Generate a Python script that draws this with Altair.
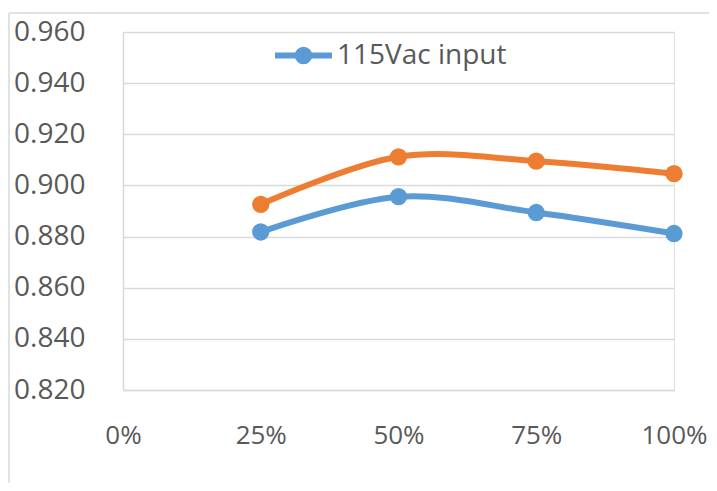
import altair as alt
import pandas as pd

# ---- data ----
loads = [0.25, 0.50, 0.75, 1.00]
eff_115 = [0.8818, 0.8956, 0.8894, 0.8812]
eff_230 = [0.8926, 0.9112, 0.9095, 0.9046]
series_names = ["115Vac input", "230Vac input"]
series_colors = ["#5b9bd5", "#ed7d31"]
y_ticks = [0.82, 0.84, 0.86, 0.88, 0.90, 0.92, 0.94, 0.96]
x_ticks = [0.0, 0.25, 0.50, 0.75, 1.00]

df = pd.DataFrame({
    "load": loads + loads,
    "eff": eff_115 + eff_230,
    "series": [series_names[0]] * len(loads) + [series_names[1]] * len(loads),
})

FONT = "Open Sans"
GRID = "#d9d9d9"
TXT = "#595959"
FS = 28

# legend symbol: a line with a circle in the middle (unit coordinates)
sym = ("M-1,0H-0.2A0.2,0.2 0 1,1 0.2,0A0.2,0.2 0 1,1 -0.2,0"
       "M0.2,0H1")

color = alt.Color(
    "series:N",
    scale=alt.Scale(domain=series_names, range=series_colors),
    legend=alt.Legend(
        values=[series_names[0]], orient="none", legendX=149, legendY=-8,
        title=None, symbolType=sym, symbolSize=3249, symbolStrokeWidth=6,
        labelFont=FONT, labelFontSize=FS, labelColor=TXT, labelOffset=2,
        labelLimit=400,
    ),
)

x = alt.X("load:Q",
          scale=alt.Scale(domain=[0, 1], nice=False),
          axis=alt.Axis(values=x_ticks, format=".0%", title=None, grid=False,
                        ticks=False, domainColor=GRID, domainWidth=1.5,
                        labelFlush=False, labelBound=False,
                        labelPadding=32, labelFont=FONT, labelFontSize=26,
                        labelColor=TXT))
y = alt.Y("eff:Q",
          scale=alt.Scale(domain=[0.82, 0.96], nice=False, zero=False),
          axis=alt.Axis(values=y_ticks, format=".3f", title=None, grid=True,
                        gridColor=GRID, gridWidth=1.5, ticks=False,
                        domainColor=GRID, domainWidth=1.5, labelPadding=38,
                        labelFlush=False, labelBound=False,
                        labelFont=FONT, labelFontSize=FS, labelColor=TXT))

base = alt.Chart(df)
lines = base.mark_line(interpolate="cardinal", strokeWidth=6).encode(
    x=x, y=y, color=color)
points = base.mark_circle(size=300, opacity=1).encode(
    x=x, y=y, color=color)

border_df = pd.DataFrame({"k": [0]})
border_v = alt.Chart(border_df).mark_rule(color=GRID, strokeWidth=1.5).encode(
    x=alt.value(-114), y=alt.value(-19), y2=alt.value(470))
border_h = alt.Chart(border_df).mark_rule(color=GRID, strokeWidth=1.5).encode(
    x=alt.value(-114), x2=alt.value(620), y=alt.value(-19))

chart = alt.layer(border_v, border_h, lines, points).properties(
    width=551, height=358,
    autosize=alt.AutoSizeParams(type="none"),
    padding={"left": 115, "top": 24, "right": 35, "bottom": 93},
).configure_view(stroke=None).configure(background="white")

chart.save("out.html", embed_options={"renderer": "svg", "actions": False})
